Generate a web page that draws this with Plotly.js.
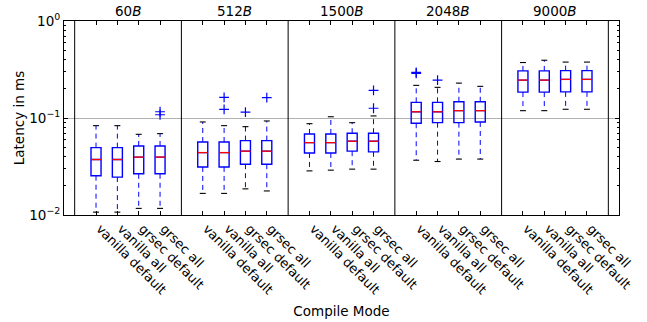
<!DOCTYPE html>
<html>
<head>
<meta charset="utf-8">
<script src="https://cdn.plot.ly/plotly-3.0.1.min.js"></script>
<style>html,body{margin:0;padding:0;background:#fff;}#chart{width:647px;height:322px;}</style>
</head>
<body>
<div id="chart"></div>
<script>
// ---- data (latency in ms) ----
const categories = ['vanilla default', 'vanilla all', 'grsec default', 'grsec all'];
const groupSizes = ['60', '512', '1500', '2048', '9000'];

// one row per packet size, one value per compile mode
const lowerWhisker = [
  [0.0107, 0.0107, 0.0117, 0.0117],
  [0.0167, 0.0167, 0.0186, 0.0177],
  [0.0285, 0.0290, 0.0297, 0.0297],
  [0.0367, 0.0356, 0.0377, 0.0377],
  [0.119, 0.119, 0.123, 0.123]
];
const q1 = [
  [0.0254, 0.0246, 0.0266, 0.0266],
  [0.0313, 0.0313, 0.0334, 0.0334],
  [0.0436, 0.0436, 0.0455, 0.0448],
  [0.0883, 0.0895, 0.0895, 0.0910],
  [0.185, 0.185, 0.186, 0.186]
];
const medians = [
  [0.0373, 0.0373, 0.0395, 0.0395],
  [0.0440, 0.0440, 0.0455, 0.0455],
  [0.0557, 0.0557, 0.0576, 0.0576],
  [0.116, 0.116, 0.119, 0.119],
  [0.246, 0.246, 0.250, 0.250]
];
const q3 = [
  [0.0495, 0.0495, 0.0515, 0.0515],
  [0.0566, 0.0566, 0.0585, 0.0585],
  [0.0685, 0.0685, 0.0697, 0.0697],
  [0.145, 0.145, 0.147, 0.147],
  [0.306, 0.306, 0.308, 0.308]
];
const upperWhisker = [
  [0.0834, 0.0834, 0.0679, 0.0690],
  [0.0910, 0.0834, 0.0814, 0.0932],
  [0.0874, 0.103, 0.0895, 0.105],
  [0.217, 0.207, 0.229, 0.212],
  [0.373, 0.394, 0.377, 0.377]
];
const outliers = [
  [[], [], [], [0.116, 0.108]],
  [[], [0.163, 0.123], [0.115], [0.162]],
  [[], [], [], [0.193, 0.126]],
  [[0.296, 0.288], [0.246], [], []],
  [[], [], [], []]
];
const yTickVals = [0.01, 0.1, 1];
const yTickText = ['10<sup>\u22122</sup>', '10<sup>\u22121</sup>', '10<sup>0</sup>'];

// ---- build traces ----
const FONT = 'DejaVu Sans, sans-serif';
const perGroup = categories.length + 1;
const boxHalf = 0.235, capHalf = 0.14;

const pos = [], bq1 = [], bmed = [], bq3 = [], tickText = [];
const medX = [], medY = [], wX = [], wY = [], cX = [], cY = [], oX = [], oY = [];
groupSizes.forEach((g, gi) => {
  categories.forEach((c, ci) => {
    const p = gi * perGroup + ci + 1;
    pos.push(p); tickText.push(c);
    bq1.push(q1[gi][ci]); bmed.push(medians[gi][ci]); bq3.push(q3[gi][ci]);
    medX.push(p - boxHalf, p + boxHalf, null); medY.push(medians[gi][ci], medians[gi][ci], null);
    wX.push(p, p, null, p, p, null);
    wY.push(q3[gi][ci], upperWhisker[gi][ci], null, q1[gi][ci], lowerWhisker[gi][ci], null);
    cX.push(p - capHalf, p + capHalf, null, p - capHalf, p + capHalf, null);
    cY.push(upperWhisker[gi][ci], upperWhisker[gi][ci], null, lowerWhisker[gi][ci], lowerWhisker[gi][ci], null);
    outliers[gi][ci].forEach(v => { oX.push(p); oY.push(v); });
  });
});

const traces = [
  {type: 'scatter', mode: 'lines', x: wX, y: wY, line: {color: '#0000ff', width: 1, dash: '5px,4px'}, hoverinfo: 'skip'},
  {type: 'box', x: pos, q1: bq1, median: bmed, q3: bq3, lowerfence: bq1, upperfence: bq3,
   width: boxHalf * 2, whiskerwidth: 0, line: {color: '#0000ff', width: 1.4}, fillcolor: 'rgba(255,255,255,0)'},
  {type: 'scatter', mode: 'lines', x: medX, y: medY, line: {color: '#ff0000', width: 1.3}, hoverinfo: 'skip'},
  {type: 'scatter', mode: 'lines', x: cX, y: cY, line: {color: '#000000', width: 1.1}, hoverinfo: 'skip'},
  {type: 'scatter', mode: 'markers', x: oX, y: oY,
   marker: {symbol: 'cross-thin', size: 7, color: '#0000ff', line: {color: '#0000ff', width: 1.2}}}
];

const shapes = [];
for (let gi = 0; gi <= groupSizes.length; gi++) {
  shapes.push({type: 'line', xref: 'x', yref: 'paper', x0: gi * perGroup, x1: gi * perGroup, y0: 0, y1: 1,
               line: {color: '#000000', width: 1}});
}
const annotations = groupSizes.map((g, gi) => ({
  xref: 'x', yref: 'paper', x: gi * perGroup + perGroup / 2, y: 1, yanchor: 'bottom', xanchor: 'center',
  text: g + '<i>B</i>', showarrow: false, font: {family: FONT, size: 13.5, color: '#000'}
}));

const minorVals = [];
[0.01, 0.1].forEach(d => { for (let k = 2; k <= 9; k++) minorVals.push(d * k); });

const layout = {
  width: 647, height: 322,
  margin: {l: 64, r: 28, t: 21, b: 107},
  paper_bgcolor: '#ffffff', plot_bgcolor: '#ffffff',
  showlegend: false,
  font: {family: FONT, size: 13, color: '#000'},
  xaxis: {
    range: [-0.5, groupSizes.length * perGroup + 0.5],
    tickmode: 'array', tickvals: pos, ticktext: tickText, tickangle: 45, ticklabelshift: 4,
    ticks: 'inside', ticklen: 4, tickcolor: '#000', mirror: 'ticks',
    showline: true, linecolor: '#000', linewidth: 1, showgrid: false, zeroline: false,
    tickfont: {family: FONT, size: 13, color: '#000'},
    title: {text: 'Compile Mode', standoff: 10, font: {family: FONT, size: 13.5, color: '#000'}}
  },
  yaxis: {
    type: 'log', range: [-2, 0],
    tickmode: 'array', tickvals: yTickVals, ticktext: yTickText,
    ticks: 'inside', ticklen: 4, tickcolor: '#000', mirror: 'ticks',
    showline: true, linecolor: '#000', linewidth: 1,
    showgrid: true, gridcolor: '#b0b0b0', gridwidth: 1, zeroline: false,
    minor: {tickmode: 'array', tickvals: minorVals, ticks: 'inside', ticklen: 2, tickcolor: '#000', showgrid: false},
    tickfont: {family: FONT, size: 13.5, color: '#000'},
    title: {text: 'Latency in ms', font: {family: FONT, size: 13.5, color: '#000'}}
  },
  shapes: shapes,
  annotations: annotations
};

Plotly.newPlot('chart', traces, layout, {staticPlot: true, displayModeBar: false});
</script>
</body>
</html>
